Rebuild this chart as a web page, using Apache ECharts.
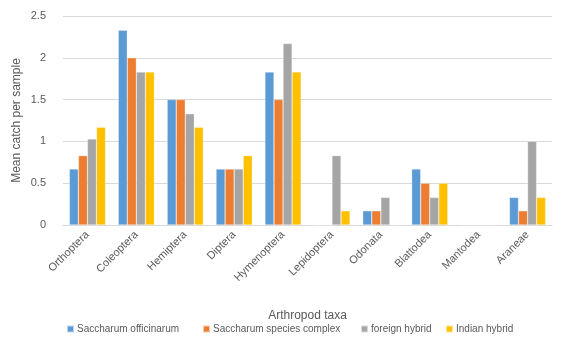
<!DOCTYPE html>
<html>
<head>
<meta charset="utf-8">
<script src="https://cdn.jsdelivr.net/npm/echarts@6/dist/echarts.min.js"></script>
<style>
  html, body { margin: 0; padding: 0; background: #fff; }
  #chart { width: 582px; height: 339px; }
</style>
</head>
<body>
<div id="chart"></div>
<script>
var taxa = ['Orthoptera', 'Coleoptera', 'Hemiptera', 'Diptera', 'Hymenoptera',
  'Lepidoptera', 'Odonata', 'Blattodea', 'Mantodea', 'Araneae']
var officinarum = [0.67, 2.33, 1.5, 0.67, 1.83, 0, 0.17, 0.67, 0, 0.33]
var speciesComplex = [0.83, 2.0, 1.5, 0.67, 1.5, 0, 0.17, 0.5, 0, 0.17]
var foreignHybrid = [1.03, 1.83, 1.33, 0.67, 2.17, 0.83, 0.33, 0.33, 0, 1.0]
var indianHybrid = [1.17, 1.83, 1.17, 0.83, 1.83, 0.17, 0, 0.5, 0, 0.33]

var seriesNames = ['Saccharum officinarum', 'Saccharum species complex', 'foreign hybrid', 'Indian hybrid']
var seriesData = [officinarum, speciesComplex, foreignHybrid, indianHybrid]
var colors = ['#5B9BD5', '#ED7D31', '#A5A5A5', '#FFC000']

var font = 'Liberation Sans'
var legendLeft = [66, 202, 360, 445] // excel puts legend entries in columns
var chart = echarts.init(document.getElementById('chart'))

chart.setOption({
  animation: false,
  color: colors,
  textStyle: { fontFamily: font, color: '#595959' },
  grid: { left: 63, right: 30, top: 16, bottom: 114, outerBoundsMode: 'none' },
  legend: seriesNames.map(function (n, i) {
    return {
      left: legendLeft[i],
      top: 324,
      padding: 0,
      itemWidth: 7,
      itemHeight: 7,
      itemGap: 0,
      icon: 'rect',
      textStyle: { fontFamily: font, fontSize: 10, color: '#595959', padding: [0, 0, 0, -2] },
      data: [n]
    }
  }),
  xAxis: {
    type: 'category',
    data: taxa,
    name: 'Arthropod taxa',
    nameLocation: 'middle',
    nameGap: 85,
    nameMoveOverlap: false,
    nameTextStyle: { fontSize: 12, color: '#595959' },
    axisTick: { show: false },
    axisLine: { lineStyle: { color: '#d9d9d9' } },
    axisLabel: { rotate: 45, fontSize: 11, color: '#595959', margin: 8 }
  },
  yAxis: {
    type: 'value',
    min: 0,
    max: 2.5,
    interval: 0.5,
    name: 'Mean catch per sample',
    nameLocation: 'middle',
    nameGap: 40,
    nameMoveOverlap: false,
    nameTextStyle: { fontSize: 12, color: '#595959' },
    axisLine: { show: false },
    axisTick: { show: false },
    splitLine: { lineStyle: { color: '#d9d9d9' } },
    axisLabel: { fontSize: 11, color: '#595959', margin: 17 }
  },
  series: seriesData.map(function (d, i) {
    return {
      name: seriesNames[i],
      type: 'bar',
      data: d,
      barGap: '0%',
      barCategoryGap: '26%',
      itemStyle: { borderColor: 'rgba(255,255,255,0.6)', borderWidth: 0.5 }
    }
  })
})
</script>
</body>
</html>
